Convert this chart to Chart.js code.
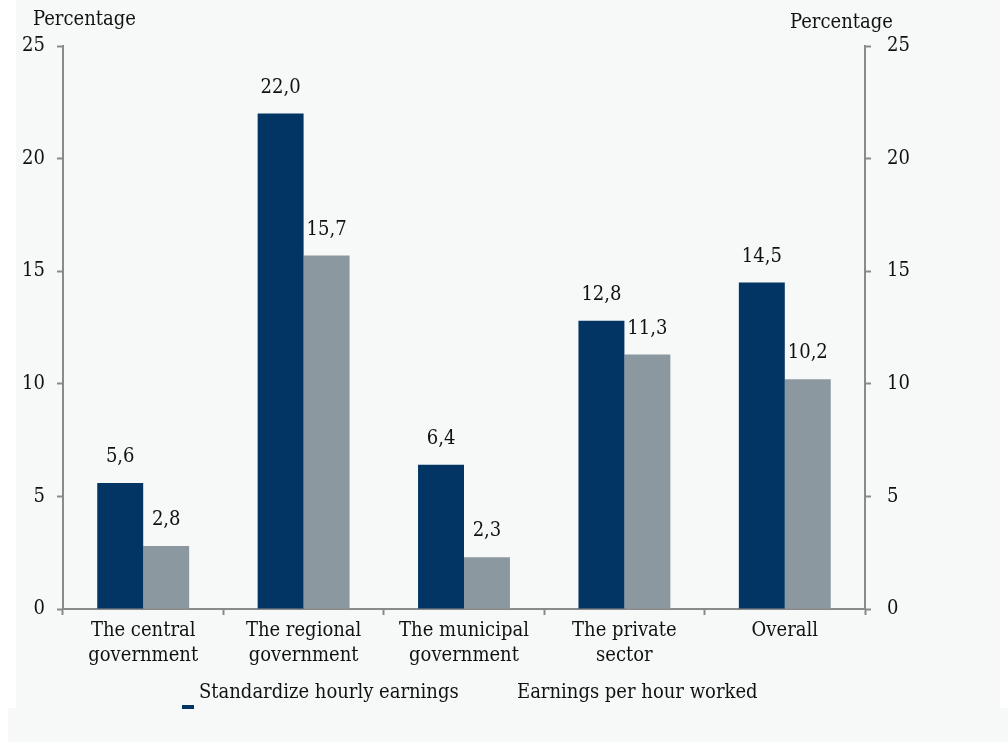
<!DOCTYPE html>
<html>
<head>
<meta charset="utf-8">
<script src="https://cdn.jsdelivr.net/npm/chart.js"></script>
<style>
  html, body { margin: 0; padding: 0; background: #ffffff; }
  #wrap { position: relative; width: 1008px; height: 742px; overflow: hidden; }
  .bg { position: absolute; background: #f7f9f9; }
  canvas { position: absolute; left: 0; top: 0; }
</style>
</head>
<body>
<div id="wrap">
  <div class="bg" style="left:16px; top:0; width:984px; height:708px;"></div>
  <div class="bg" style="left:8px; top:708px; width:1000px; height:34px;"></div>
  <canvas id="chart" width="1008" height="742"></canvas>
</div>
<script>
  const categories = [
    ['The central', 'government'],
    ['The regional', 'government'],
    ['The municipal', 'government'],
    ['The private', 'sector'],
    ['Overall']
  ];
  const standardizedHourly = [5.6, 22.0, 6.4, 12.8, 14.5];
  const perHourWorked = [2.8, 15.7, 2.3, 11.3, 10.2];
  const seriesNames = ['Standardize hourly earnings', 'Earnings per hour worked'];
  const yTicks = [0, 5, 10, 15, 20, 25];

  const FONT = '"DejaVu Serif Condensed", "DejaVu Serif", "Liberation Serif", serif';
  const SIZE = 20;
  const AXIS = '#8a8a8a';
  const INK = '#111111';

  // value labels above each bar, plus axis captions and the legend row
  const extras = {
    id: 'extras',
    afterDatasetsDraw(chart) {
      const ctx = chart.ctx;
      ctx.save();
      ctx.font = SIZE + 'px ' + FONT;
      ctx.fillStyle = INK;
      ctx.textAlign = 'center';
      ctx.textBaseline = 'middle';
      chart.data.datasets.forEach((ds, i) => {
        chart.getDatasetMeta(i).data.forEach((bar, j) => {
          ctx.fillText(ds.data[j].toFixed(1).replace('.', ','), bar.x, bar.y - 26);
        });
      });

      ctx.textAlign = 'left';
      ctx.fillText('Percentage', 33, 20);
      ctx.fillText('Percentage', 790, 23);

      // legend
      ctx.fillStyle = chart.data.datasets[0].backgroundColor;
      ctx.fillRect(182, 705, 12, 4);
      ctx.fillStyle = INK;
      ctx.fillText(seriesNames[0], 199, 693);
      ctx.fillText(seriesNames[1], 517, 693);
      ctx.restore();
    }
  };

  const yScale = (position, width) => ({
    type: 'linear',
    position,
    min: 0,
    max: 25,
    afterBuildTicks: s => { s.ticks = yTicks.map(v => ({ value: v })); },
    afterFit: s => { s.width = width; },
    border: { display: true, color: AXIS, width: 2 },
    grid: { drawOnChartArea: false, drawTicks: true, tickLength: 6, tickColor: AXIS, tickWidth: 2 },
    ticks: {
      color: INK,
      font: { family: FONT, size: SIZE },
      padding: position === 'left' ? 12 : 16
    }
  });

  new Chart(document.getElementById('chart'), {
    type: 'bar',
    data: {
      labels: categories,
      datasets: [
        { label: seriesNames[0], data: standardizedHourly, backgroundColor: '#023563' },
        { label: seriesNames[1], data: perHourWorked, backgroundColor: '#8c989f' }
      ]
    },
    options: {
      responsive: false,
      animation: false,
      layout: { padding: { top: 46, left: 0, right: 0, bottom: 0 } },
      datasets: { bar: { categoryPercentage: 0.573, barPercentage: 1.0 } },
      plugins: { legend: { display: false }, tooltip: { enabled: false } },
      scales: {
        x: {
          afterFit: s => { s.height = 133; },
          border: { display: true, color: AXIS, width: 2 },
          grid: { offset: true, drawOnChartArea: false, drawTicks: true, tickLength: 6, tickColor: AXIS, tickWidth: 2 },
          ticks: {
            color: INK,
            maxRotation: 0,
            autoSkip: false,
            padding: 3,
            font: { family: FONT, size: SIZE, lineHeight: 1.25 }
          }
        },
        y: yScale('left', 63),
        y2: yScale('right', 143)
      }
    },
    plugins: [extras]
  });
</script>
</body>
</html>
